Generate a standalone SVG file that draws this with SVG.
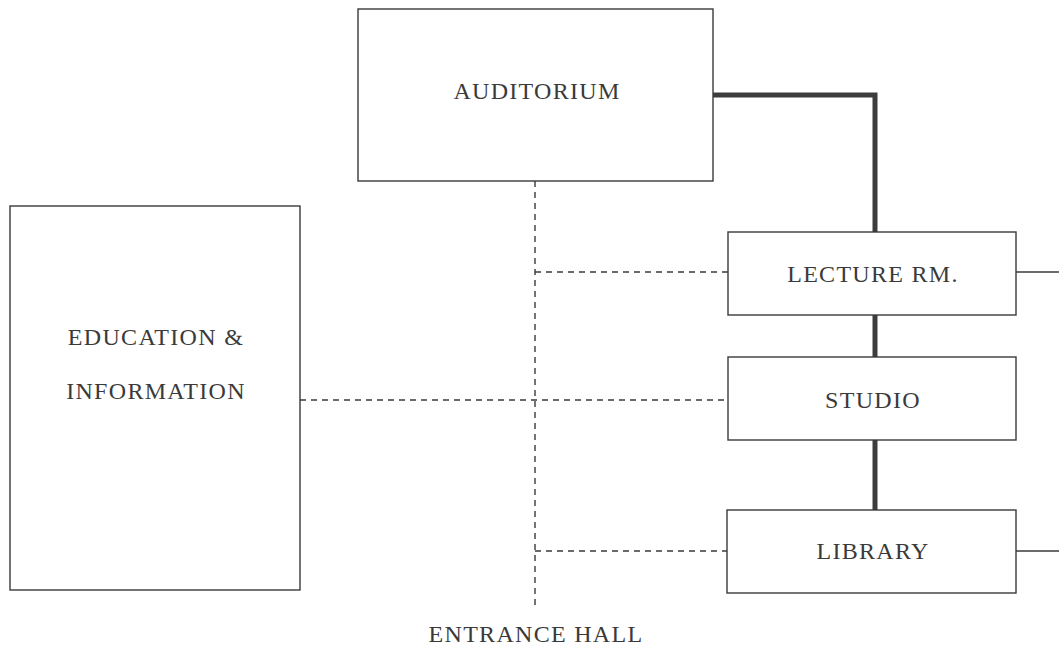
<svg xmlns="http://www.w3.org/2000/svg" width="1059" height="648" viewBox="0 0 1059 648">
  <style>
    .box { fill: #ffffff; stroke: #3a3a3a; stroke-width: 1.4; }
    .label { font-family: "Liberation Serif", "DejaVu Serif", serif; font-size: 24px; fill: #3a3a3a; text-anchor: middle; letter-spacing: 1.3px; }
    .strong { fill: none; stroke: #3c3c3c; stroke-width: 5; }
    .dash { fill: none; stroke: #3a3a3a; stroke-width: 1.4; stroke-dasharray: 6 5; }
    .thin { fill: none; stroke: #3a3a3a; stroke-width: 1.4; }
  </style>
  <rect width="1059" height="648" fill="#ffffff"/>

  <g id="connectors">
    <!-- strong links -->
    <path class="strong" d="M713 95 H875 V232"/>
    <line class="strong" x1="875" y1="315" x2="875" y2="357"/>
    <line class="strong" x1="875" y1="440" x2="875" y2="510"/>
    <!-- circulation from the entrance hall -->
    <line class="dash" x1="535" y1="181" x2="535" y2="606"/>
    <line class="dash" x1="535" y1="272" x2="728" y2="272"/>
    <line class="dash" x1="300" y1="400" x2="728" y2="400"/>
    <line class="dash" x1="535" y1="551" x2="727" y2="551"/>
    <!-- links leaving to the right -->
    <line class="thin" x1="1016" y1="272" x2="1059" y2="272"/>
    <line class="thin" x1="1016" y1="551" x2="1059" y2="551"/>
  </g>

  <g id="auditorium">
    <rect class="box" x="358" y="9" width="355" height="172"/>
    <text class="label" x="537" y="99">AUDITORIUM</text>
  </g>

  <g id="lecture-rm">
    <rect class="box" x="728" y="232" width="288" height="83"/>
    <text class="label" x="873" y="282">LECTURE RM.</text>
  </g>

  <g id="studio">
    <rect class="box" x="728" y="357" width="288" height="83"/>
    <text class="label" x="873" y="408">STUDIO</text>
  </g>

  <g id="library">
    <rect class="box" x="727" y="510" width="289" height="83"/>
    <text class="label" x="873" y="559">LIBRARY</text>
  </g>

  <g id="education-information">
    <rect class="box" x="10" y="206" width="290" height="384"/>
    <text class="label" x="156" y="345">EDUCATION &amp;</text>
    <text class="label" x="156" y="399">INFORMATION</text>
  </g>

  <g id="entrance-hall">
    <text class="label" x="536" y="642">ENTRANCE HALL</text>
  </g>
</svg>
